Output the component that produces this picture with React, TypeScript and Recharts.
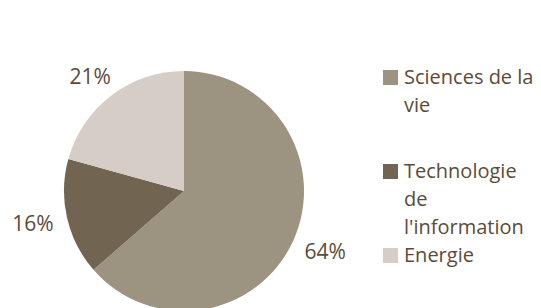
import { PieChart, Pie, Cell } from 'recharts';

const categories = ['Sciences de la vie', "Technologie de l'information", 'Energie'];
const shares = [63.6, 15.7, 20.7];
const colors = ['#9d9381', '#716450', '#d6cdc7'];

const data = categories.map((name, i) => ({ name, value: shares[i] }));

const FONT = '"Open Sans", Lato, sans-serif';
const TEXT = '#5b4b3c';
const RAD = Math.PI / 180;

const renderLabel = (props: any) => {
  const { cx, cy, midAngle, outerRadius, percent } = props;
  const cos = Math.cos(-midAngle * RAD);
  const sin = Math.sin(-midAngle * RAD);
  const r = outerRadius + 14;
  const w = 42;
  const h = 20;
  const x = cx + r * cos + (w / 2) * cos;
  const y = cy + r * sin + (h / 2) * sin;
  return (
    <text x={x} y={y} fill={TEXT} fontSize={21} fontFamily={FONT} textAnchor="middle" dominantBaseline="central">
      {`${Math.round(percent * 100)}%`}
    </text>
  );
};

const ChartLegend = () => (
  <div
    style={{
      position: 'absolute',
      left: 375,
      top: 55,
      width: 155,
      fontFamily: FONT,
      fontSize: 20,
      color: TEXT,
      lineHeight: '28px',
    }}
  >
    {categories.map((name, i) => (
      <div key={name} style={{ display: 'flex', alignItems: 'flex-start', height: i === 0 ? 94 : 'auto' }}>
        <span
          style={{
            width: 15,
            height: 15,
            marginTop: 7,
            marginRight: 6,
            background: colors[i],
            flex: 'none',
          }}
        />
        <span style={{ width: 132 }}>{name}</span>
      </div>
    ))}
  </div>
);

export default function App() {
  return (
    <div style={{ position: 'relative', width: 533, height: 300 }}>
      <PieChart width={533} height={300} margin={{ top: 0, right: 0, bottom: 0, left: 0 }}>
        <Pie
          data={data}
          dataKey="value"
          nameKey="name"
          cx={176}
          cy={183}
          outerRadius={120}
          startAngle={90}
          endAngle={-270}
          stroke="none"
          label={renderLabel}
          labelLine={false}
          isAnimationActive={false}
        >
          {data.map((d, i) => (
            <Cell key={d.name} fill={colors[i]} />
          ))}
        </Pie>
      </PieChart>
      <ChartLegend />
    </div>
  );
}
